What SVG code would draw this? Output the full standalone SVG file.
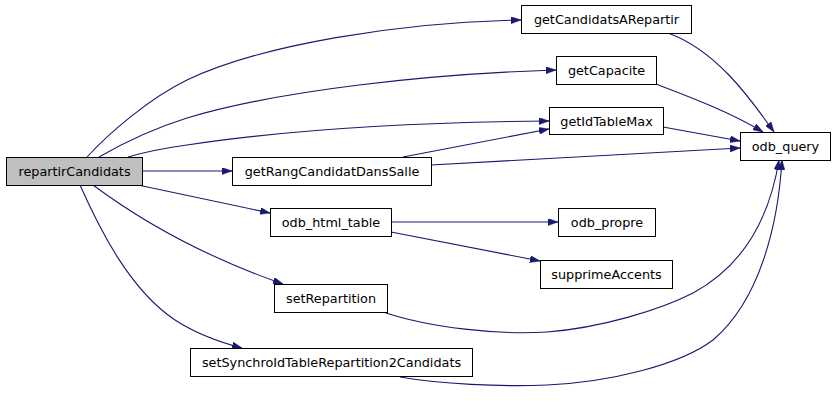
<svg xmlns="http://www.w3.org/2000/svg" width="834" height="402" viewBox="0 0 834 402">
<style>
.n rect{fill:#ffffff;stroke:#000000;stroke-width:1}
.n.root rect{fill:#bfbfbf}
.n text{font-family:"DejaVu Sans",sans-serif;font-size:12.8px;fill:#000000;text-anchor:middle}
.e path{fill:none;stroke:#191970;stroke-width:1.1;marker-end:url(#arr)}
</style>
<defs>
<marker id="arr" viewBox="0 0 10 7" markerUnits="userSpaceOnUse" markerWidth="10" markerHeight="7" refX="10" refY="3.5" orient="auto">
<path d="M0,0 L10,3.5 L0,7 z" fill="#191970" stroke="#191970" stroke-width="0.5"/>
</marker>
</defs>
<rect width="834" height="402" fill="#ffffff"/>
<g id="edges" class="e">
<path d="M87,157 C110,132 150,98 187,80 C260,45 400,22 521,20"/>
<path d="M99,157 C125,142 155,128 187,118 C280,90 430,74 556,70"/>
<path d="M128,157 C145,152 165,148 187,145 C300,128 440,122 549,121"/>
<path d="M142,171 L232,171"/>
<path d="M138,185 L270,213"/>
<path d="M93,185 C140,220 200,255 283,284"/>
<path d="M80,185 C100,230 130,290 175,320 C195,333 215,341 242,348"/>
<path d="M403,157 L549,129"/>
<path d="M431,165 L740,148"/>
<path d="M663,127 L740,141"/>
<path d="M656,84 C690,97 730,112 763,132"/>
<path d="M668,33 C715,50 748,95 774,132"/>
<path d="M391,222 L558,222"/>
<path d="M391,232 L540,261"/>
<path d="M383,312 C430,328 500,335 547,332 C600,328 660,310 693,293 C745,265 770,215 779,160"/>
<path d="M400,377 C440,384 500,387 547,385 C610,382 680,365 713,340 C760,300 778,225 782,160"/>
</g>
<g id="repartirCandidats" class="n root"><rect x="6.5" y="157.5" width="136" height="28"/><text x="74.5" y="176">repartirCandidats</text></g>
<g id="getCandidatsARepartir" class="n"><rect x="521.5" y="5.5" width="170" height="28"/><text x="606.5" y="24">getCandidatsARepartir</text></g>
<g id="getCapacite" class="n"><rect x="556.5" y="56.5" width="100" height="28"/><text x="606.5" y="75">getCapacite</text></g>
<g id="getIdTableMax" class="n"><rect x="549.5" y="107.5" width="114" height="27"/><text x="606.5" y="125.5">getIdTableMax</text></g>
<g id="odb_query" class="n"><rect x="740.5" y="132.5" width="90" height="28"/><text x="785.5" y="151">odb_query</text></g>
<g id="getRangCandidatDansSalle" class="n"><rect x="232.5" y="157.5" width="199" height="28"/><text x="332" y="176">getRangCandidatDansSalle</text></g>
<g id="odb_html_table" class="n"><rect x="270.5" y="208.5" width="121" height="28"/><text x="331" y="227">odb_html_table</text></g>
<g id="odb_propre" class="n"><rect x="558.5" y="208.5" width="97" height="28"/><text x="607" y="227">odb_propre</text></g>
<g id="supprimeAccents" class="n"><rect x="540.5" y="260.5" width="132" height="28"/><text x="606.5" y="279">supprimeAccents</text></g>
<g id="setRepartition" class="n"><rect x="274.5" y="284.5" width="113" height="28"/><text x="331" y="303">setRepartition</text></g>
<g id="setSynchroIdTableRepartition2Candidats" class="n"><rect x="190.5" y="348.5" width="282" height="28"/><text x="331.5" y="367">setSynchroIdTableRepartition2Candidats</text></g>
</svg>
